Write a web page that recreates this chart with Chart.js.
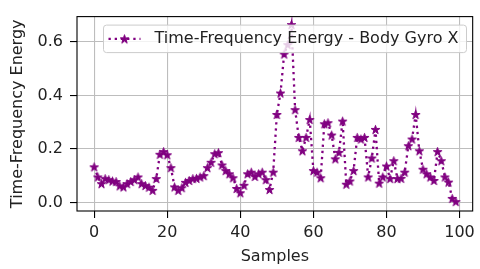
<!DOCTYPE html>
<html>
<head>
<meta charset="utf-8">
<script src="https://cdn.jsdelivr.net/npm/chart.js@4.4.1/dist/chart.umd.min.js"></script>
<style>
  html, body { margin: 0; padding: 0; background: #fff; }
</style>
</head>
<body>
<canvas id="grafico" width="480" height="269"></canvas>
<script>
// Datos
const muestras = Array.from({ length: 100 }, (_, i) => i) // Eje X: indice de muestra 0..99
const energia = [
  0.133, 0.095, 0.070, 0.089, 0.085, 0.080, 0.078, 0.062, 0.058, 0.070,
  0.078, 0.085, 0.095, 0.070, 0.063, 0.057, 0.045, 0.089, 0.180, 0.190,
  0.178, 0.130, 0.058, 0.045, 0.055, 0.075, 0.082, 0.089, 0.090, 0.095,
  0.100, 0.130, 0.150, 0.182, 0.186, 0.140, 0.119, 0.107, 0.092, 0.052,
  0.036, 0.064, 0.107, 0.113, 0.097, 0.107, 0.113, 0.085, 0.048, 0.113,
  0.329, 0.409, 0.555, 0.590, 0.665, 0.347, 0.243, 0.193, 0.243, 0.310,
  0.119, 0.113, 0.092, 0.294, 0.298, 0.252, 0.163, 0.187, 0.304, 0.068,
  0.080, 0.119, 0.243, 0.237, 0.243, 0.095, 0.166, 0.273, 0.072, 0.095,
  0.136, 0.089, 0.156, 0.089, 0.090, 0.113, 0.212, 0.237, 0.329, 0.193,
  0.124, 0.107, 0.095, 0.082, 0.190, 0.156, 0.095, 0.076, 0.015, 0.003
]
const ticksX = [0, 20, 40, 60, 80, 100]
const ticksY = [0, 0.2, 0.4, 0.6]
const etiqueta = 'Time-Frequency Energy - Body Gyro X'

const morado = '#800080'
const colorTexto = '#222'
const fuente = { family: '"DejaVu Sans", sans-serif', size: 16 }

// Estrella de 5 puntas (marcador '*' de matplotlib)
function crearEstrella(r, color) {
  const c = document.createElement('canvas')
  const s = Math.ceil(r * 2 + 3)
  c.width = s
  c.height = s
  const g = c.getContext('2d')
  g.beginPath()
  for (let k = 0; k < 10; k++) {
    const rad = k % 2 === 0 ? r : r * 0.382
    const ang = -Math.PI / 2 + k * Math.PI / 5
    const px = s / 2 + rad * Math.cos(ang)
    const py = s / 2 + 0.5 + rad * Math.sin(ang)
    if (k === 0) g.moveTo(px, py)
    else g.lineTo(px, py)
  }
  g.closePath()
  g.fillStyle = color
  g.fill()
  g.strokeStyle = color
  g.lineWidth = 1
  g.stroke()
  return c
}
const estrella = crearEstrella(4.6, morado)

// Marco de los ejes y leyenda por encima de la serie
const marcoYLeyenda = {
  id: 'marcoYLeyenda',
  afterDatasetsDraw(chart) {
    const ctx = chart.ctx
    const a = chart.chartArea
    ctx.save()
    ctx.strokeStyle = '#000'
    ctx.lineWidth = 1.1
    ctx.strokeRect(a.left, a.top, a.right - a.left, a.bottom - a.top)

    const bx = a.left + 26.5, by = a.top + 8.5, bw = 363, bh = 27.5
    ctx.beginPath()
    ctx.roundRect(bx, by, bw, bh, 3)
    ctx.fillStyle = 'rgba(255,255,255,0.8)'
    ctx.fill()
    ctx.strokeStyle = '#cccccc'
    ctx.lineWidth = 1
    ctx.stroke()

    const cy = by + bh / 2
    ctx.setLineDash([2.3, 3.9])
    ctx.strokeStyle = morado
    ctx.lineWidth = 2.3
    ctx.beginPath()
    ctx.moveTo(bx + 5, cy)
    ctx.lineTo(bx + 37, cy)
    ctx.stroke()
    ctx.setLineDash([])
    ctx.drawImage(estrella, bx + 21 - estrella.width / 2, cy - estrella.height / 2)

    ctx.fillStyle = colorTexto
    ctx.font = '16px "DejaVu Sans", sans-serif'
    ctx.textBaseline = 'middle'
    ctx.textAlign = 'left'
    ctx.fillText(etiqueta, bx + 51, cy)
    ctx.restore()
  }
}

const ctx = document.getElementById('grafico').getContext('2d')
const chart = new Chart(ctx, {
  type: 'line',
  data: {
    labels: muestras,
    datasets: [{
      label: etiqueta,
      data: energia,
      borderColor: morado,
      backgroundColor: morado,
      borderWidth: 2.3,
      borderDash: [2.3, 3.9],
      pointStyle: estrella,
      pointRadius: 4,
      pointHoverRadius: 4,
      tension: 0,
      fill: false
    }]
  },
  options: {
    responsive: false,
    animation: false,
    devicePixelRatio: 1,
    layout: { padding: { top: 14, right: 6, left: 0, bottom: 0 } },
    plugins: {
      legend: { display: false },
      tooltip: { enabled: false }
    },
    scales: {
      x: {
        type: 'linear',
        min: -4.7,
        max: 103.6,
        afterBuildTicks: s => { s.ticks = ticksX.map(v => ({ value: v })) },
        afterFit: s => { s.height = 58 },
        grid: { color: '#bdbdbd', lineWidth: 1.1, tickLength: 7, tickColor: '#000', tickWidth: 1.1 },
        border: { display: false },
        ticks: { color: colorTexto, font: fuente, padding: 5, maxRotation: 0, autoSkip: false, callback: v => v },
        title: { display: true, text: 'Samples', color: colorTexto, font: fuente, padding: { top: 0, bottom: 3 } }
      },
      y: {
        min: -0.0322,
        max: 0.695,
        afterBuildTicks: s => { s.ticks = ticksY.map(v => ({ value: v })) },
        afterFit: s => { s.width = 77 },
        grid: { color: '#bdbdbd', lineWidth: 1.1, tickLength: 7, tickColor: '#000', tickWidth: 1.1 },
        border: { display: false },
        ticks: { color: colorTexto, font: fuente, padding: 7, callback: v => v.toFixed(1) },
        title: { display: true, text: 'Time-Frequency Energy', color: colorTexto, font: fuente, padding: { top: 8, bottom: 0 } }
      }
    }
  },
  plugins: [marcoYLeyenda]
})
</script>
</body>
</html>
